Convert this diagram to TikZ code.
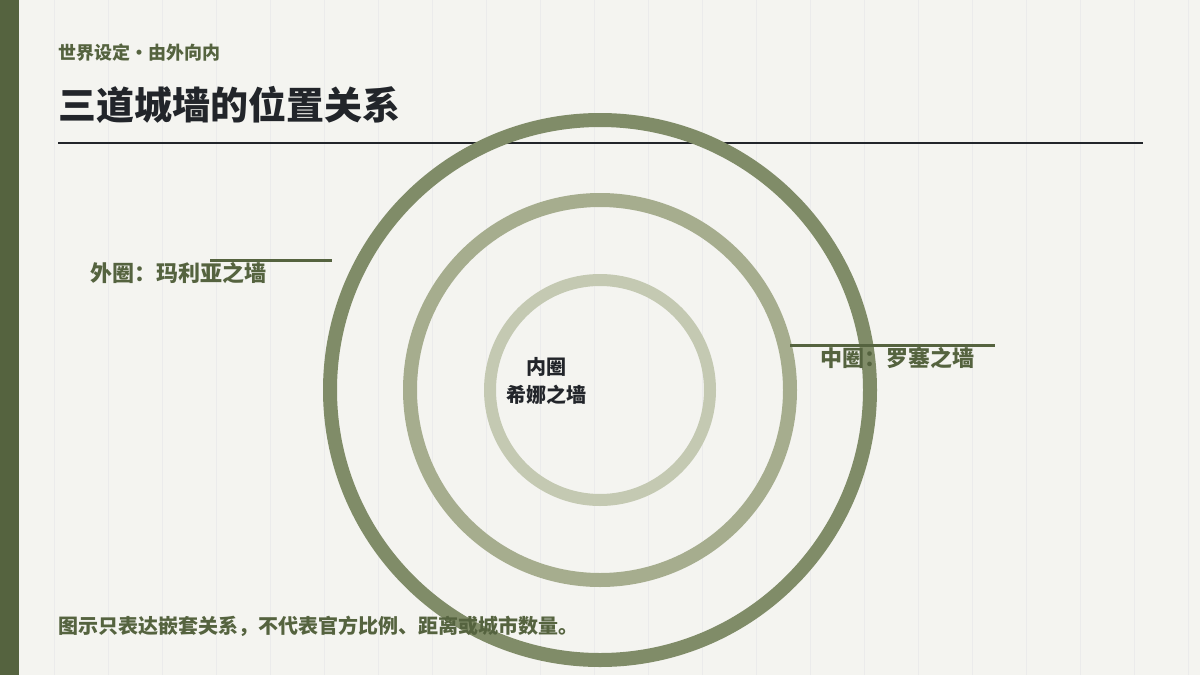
\documentclass[tikz,border=0pt]{standalone}
\usepackage{fontspec}
\setmainfont{Noto Sans CJK SC}
\definecolor{paper}{HTML}{F4F4F0}
\definecolor{moss}{HTML}{55633F}
\definecolor{ringA}{HTML}{808C68}
\definecolor{ringB}{HTML}{A6AD8E}
\definecolor{ringC}{HTML}{C4C9B2}
\definecolor{ink}{HTML}{22252A}
\begin{document}
\begin{tikzpicture}[x=0.5pt, y=-0.5pt,
                    ring_style/.style={line width=7pt},
                    lead_style/.style={draw=moss, line width=1.5pt},
                    lbl/.style={font=\bfseries\fontsize{11}{13}\selectfont, text=moss, inner sep=0pt, anchor=west}
   ]
   \useasboundingbox (0,0) rectangle (1200,675);
   \fill[paper] (0,0) rectangle (1200,675);
   \foreach \gx in {54,108,...,1190}
      \draw[black!8, line width=0.5pt] (\gx,0) -- (\gx,675);
   \fill[moss] (0,0) rectangle (19,675);
   % header
   \node[font=\bfseries\fontsize{9}{11}\selectfont, text=moss, inner sep=0pt, anchor=west] (kicker) at (58,53) {世界设定・由外向内};
   \node[font=\bfseries\fontsize{19}{22}\selectfont, text=ink, inner sep=0pt, anchor=west] (title) at (58,105) {三道城墙的位置关系};
   \coordinate (ruleL) at (58,143);
   \coordinate (ruleR) at (1143,143);
   \draw[ink, line width=1pt] (ruleL) -- (ruleR);
   % rings
   \coordinate (hub) at (600,390);
   \draw[ring_style, ringA] (hub) circle[radius=270];
   \draw[ring_style, ringB] (hub) circle[radius=190];
   \draw[ring_style, draw=ringC, line width=6pt] (hub) circle[radius=110];
   % labels
   \coordinate (outerA) at (210,260);
   \coordinate (outerB) at (332,260);
   \coordinate (midA) at (790,345);
   \coordinate (midB) at (995,345);
   \draw[lead_style] (outerA) -- (outerB);
   \draw[lead_style] (midA) -- (midB);
   \node[lbl] (outer) at (90,273) {外圈：玛利亚之墙};
   \node[lbl] (middle) at (820,358) {中圈：罗塞之墙};
   \node[font=\bfseries\fontsize{10}{14}\selectfont, text=ink, align=center] (inner) at (546,381) {内圈\\希娜之墙};
   \node[font=\bfseries\fontsize{10}{12}\selectfont, text=moss, inner sep=0pt, anchor=west] (note) at (58,626) {图示只表达嵌套关系，不代表官方比例、距离或城市数量。};
\end{tikzpicture}
\end{document}
